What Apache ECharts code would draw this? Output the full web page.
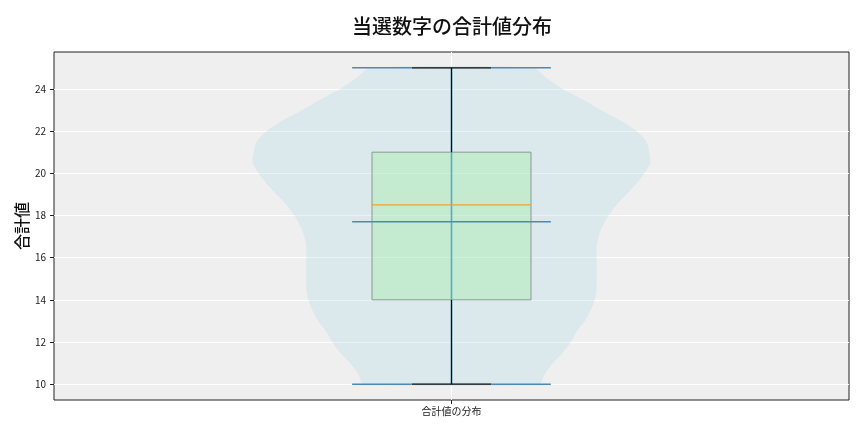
<!DOCTYPE html>
<html>
<head>
<meta charset="utf-8">
<title>当選数字の合計値分布</title>
<script src="https://cdn.jsdelivr.net/npm/echarts@6/dist/echarts.min.js"></script>
<style>
  html, body { margin: 0; padding: 0; background: #fff; }
  #main { width: 864px; height: 432px; }
</style>
</head>
<body>
<div id="main"></div>
<script>
// 分布のラベルと統計値
var categoryLabel = '合計値の分布';
var yTicks = [10, 12, 14, 16, 18, 20, 22, 24];
var boxStats = { min: 10, q1: 14, median: 18.5, q3: 21, max: 25 };
var violinMean = 17.7;

// バイオリンの形（値と相対密度）
var violinValues = [25, 24.5, 24, 23.5, 23, 22.5, 22, 21.5, 21, 20.5, 20, 19.5, 19, 18.5, 18,
                    17.5, 17, 16.5, 16, 15.5, 15, 14.5, 14, 13.5, 13, 12.5, 12, 11.5, 11, 10.5, 10];
var violinDensity = [0.41, 0.48, 0.56, 0.66, 0.75, 0.85, 0.93, 0.98, 0.995, 1.0, 0.97, 0.93, 0.88, 0.83, 0.79,
                     0.76, 0.74, 0.73, 0.73, 0.73, 0.73, 0.73, 0.72, 0.70, 0.67, 0.63, 0.60, 0.56, 0.51, 0.47, 0.44];

var pos = 1;
var violinHalf = 0.25;
var boxHalf = 0.1;
var capHalf = 0.05;
var extHalf = 0.125;

function seg(api, x1, y1, x2, y2, color, width) {
    var a = api.coord([x1, y1]), b = api.coord([x2, y2]);
    return { type: 'line', shape: { x1: a[0], y1: a[1], x2: b[0], y2: b[1] },
             style: { stroke: color, lineWidth: width } };
}

function renderViolin(params, api) {
    var right = [], left = [];
    for (var i = 0; i < violinValues.length; i++) {
        var w = violinDensity[i] * violinHalf;
        right.push(api.coord([pos + w, violinValues[i]]));
        left.unshift(api.coord([pos - w, violinValues[i]]));
    }
    var pts = right.concat(left);
    var b = boxStats;
    var tl = api.coord([pos - boxHalf, b.q3]), br = api.coord([pos + boxHalf, b.q1]);
    return {
        type: 'group',
        children: [
            { type: 'polygon', shape: { points: pts, smooth: 0.25 }, style: { fill: 'rgba(173,216,230,0.3)' } },
            // 箱
            { type: 'rect', shape: { x: tl[0], y: tl[1], width: br[0] - tl[0], height: br[1] - tl[1] },
              style: { fill: 'rgba(144,238,144,0.3)', stroke: '#8a9a90', lineWidth: 1 } },
            // バイオリンの中心線
            seg(api, pos, b.min, pos, b.max, '#55aec0', 1.6),
            // ひげ
            seg(api, pos, b.q3, pos, b.max, '#000', 1.2),
            seg(api, pos, b.q1, pos, b.min, '#000', 1.2),
            seg(api, pos - capHalf, b.max, pos + capHalf, b.max, '#000', 1.3),
            seg(api, pos - capHalf, b.min, pos + capHalf, b.min, '#000', 1.3),
            // 中央値
            seg(api, pos - boxHalf, b.median, pos + boxHalf, b.median, '#f0a030', 1.2),
            // 端と平均
            seg(api, pos - extHalf, b.max, pos - capHalf, b.max, '#4f88b5', 1.5),
            seg(api, pos + capHalf, b.max, pos + extHalf, b.max, '#4f88b5', 1.5),
            seg(api, pos - extHalf, b.min, pos - capHalf, b.min, '#4f88b5', 1.5),
            seg(api, pos + capHalf, b.min, pos + extHalf, b.min, '#4f88b5', 1.5),
            seg(api, pos - extHalf, violinMean, pos + extHalf, violinMean, '#4f88b5', 1.5)
        ]
    };
}

var chart = echarts.init(document.getElementById('main'));
var option = {
    animation: false,
    textStyle: { fontFamily: 'Noto Sans CJK JP' },
    title: {
        text: '当選数字の合計値分布',
        left: 347, top: 11,
        textStyle: { fontFamily: 'Noto Sans CJK JP', fontSize: 20, fontWeight: 500, color: '#111' }
    },
    grid: {
        left: 54, right: 15, top: 52, bottom: 32,
        outerBoundsMode: 'none',
        show: true, backgroundColor: '#efefef', borderColor: '#222', borderWidth: 1
    },
    xAxis: {
        type: 'value', min: 0.5, max: 1.5, interval: 0.5,
        axisLine: { show: false },
        axisTick: { show: true, length: 4, customValues: [pos], lineStyle: { color: '#222' } },
        axisLabel: {
            fontSize: 10, color: '#222', margin: 6, customValues: [pos],
            formatter: function (v) { return v === pos ? categoryLabel : ''; }
        },
        splitLine: { show: true, lineStyle: { color: '#ffffff', width: 1 } }
    },
    yAxis: {
        type: 'value', min: 9.25, max: 25.75,
        name: '合計値', nameLocation: 'middle', nameGap: 24, nameMoveOverlap: false,
        nameTextStyle: { fontSize: 16, fontWeight: 500, color: '#111' },
        axisLine: { show: false },
        axisTick: { show: true, length: 4, customValues: yTicks, lineStyle: { color: '#222' } },
        axisLabel: { fontSize: 10, color: '#222', margin: 8, customValues: yTicks },
        splitLine: { show: true, lineStyle: { color: '#ffffff', width: 1 } }
    },
    series: [{
        type: 'custom',
        renderItem: renderViolin,
        data: [[pos, boxStats.median]],
        z: 5
    }]
};
chart.setOption(option);
</script>
</body>
</html>
